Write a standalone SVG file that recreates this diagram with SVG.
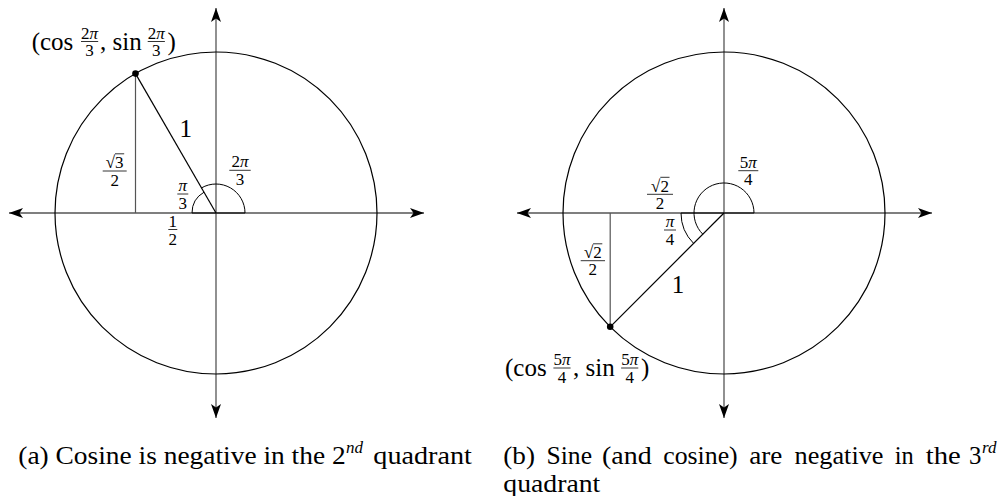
<svg xmlns="http://www.w3.org/2000/svg" width="1004" height="496" viewBox="0 0 1004 496">
<style>
text{font-family:"Liberation Serif","Times New Roman",serif;fill:#000}
.m{font-size:25px}
.s{font-size:17px;text-anchor:middle}
.c{font-size:24.8px}
.sup{font-size:17px;font-style:italic}
.it{font-style:italic}
.axis{stroke:#555;stroke-width:1.3;fill:none}
.thin{stroke:#555;stroke-width:1.2;fill:none}
.circ{stroke:#000;stroke-width:1.2;fill:none}
.rad{stroke:#000;stroke-width:1.2;fill:none}
.arc{stroke:#000;stroke-width:1;fill:none}
.bar{stroke:#000;stroke-width:0.8}
</style>
<defs>
<marker id="arr" viewBox="-15 -6 16 12" refX="0" refY="0" markerWidth="16" markerHeight="12" markerUnits="userSpaceOnUse" orient="auto-start-reverse">
<path d="M0,0 L-14,-5 L-10.5,0 L-14,5 Z" fill="#000"/>
</marker>
</defs>

<g id="connectors">
<line class="axis" x1="9" y1="213" x2="424" y2="213" marker-start="url(#arr)" marker-end="url(#arr)"/>
<line class="axis" x1="216" y1="8" x2="216" y2="418" marker-start="url(#arr)" marker-end="url(#arr)"/>
<line class="axis" x1="517" y1="213" x2="932" y2="213" marker-start="url(#arr)" marker-end="url(#arr)"/>
<line class="axis" x1="724" y1="8" x2="724" y2="418" marker-start="url(#arr)" marker-end="url(#arr)"/>
</g>

<g id="circle-a">
<circle class="circ" cx="216" cy="213" r="161"/>
<line class="thin" x1="135.5" y1="73.6" x2="135.5" y2="213"/>
<line class="rad" x1="216" y1="213" x2="135.5" y2="73.6"/>
<path class="arc" d="M216,213 L245,213 A29,29 0 0 0 201.5,187.9"/>
<path class="arc" d="M216,213 L192,213 A24,24 0 0 1 204,192.2"/>
<circle cx="135.5" cy="73.6" r="3.3" fill="#000"/>
</g>

<g id="labels-a">
<text class="m" x="31.7" y="49.5">(cos</text>
<text class="s" x="89.6" y="38.5">2<tspan class="it">π</tspan></text>
<line class="bar" x1="81" y1="41.5" x2="98.2" y2="41.5"/>
<text class="s" x="89.6" y="56">3</text>
<text class="m" x="100" y="49.5">, sin</text>
<text class="s" x="156.3" y="38.5">2<tspan class="it">π</tspan></text>
<line class="bar" x1="147.7" y1="41.5" x2="164.9" y2="41.5"/>
<text class="s" x="156.3" y="56">3</text>
<text class="m" x="167.5" y="49.5">)</text>

<text class="m" x="185.7" y="137.3" text-anchor="middle">1</text>

<text class="s" x="114.7" y="168">√3</text>
<line class="bar" x1="115" y1="153.8" x2="124.2" y2="153.8"/>
<line class="bar" x1="102.7" y1="171" x2="126.7" y2="171"/>
<text class="s" x="114.7" y="185.5">2</text>

<text class="s" x="240" y="167">2<tspan class="it">π</tspan></text>
<line class="bar" x1="229.3" y1="170.3" x2="250.7" y2="170.3"/>
<text class="s" x="240" y="184.8">3</text>

<text class="s" x="182.8" y="191" font-style="italic">π</text>
<line class="bar" x1="177.3" y1="194" x2="188.3" y2="194"/>
<text class="s" x="182.8" y="208.5">3</text>

<text class="s" x="172.8" y="226.5">1</text>
<line class="bar" x1="168.3" y1="229.5" x2="177.3" y2="229.5"/>
<text class="s" x="172.8" y="244.5">2</text>
</g>

<g id="circle-b">
<circle class="circ" cx="724" cy="213" r="161"/>
<line class="thin" x1="610.2" y1="213" x2="610.2" y2="326.8"/>
<line class="rad" x1="724" y1="213" x2="610.2" y2="326.8"/>
<path class="arc" d="M724,213 L754,213 A30,30 0 1 0 702.8,234.2"/>
<path class="arc" d="M724,213 L681,213 A43,43 0 0 0 693.6,243.4"/>
<circle cx="610.2" cy="326.8" r="3.3" fill="#000"/>
</g>

<g id="labels-b">
<text class="s" x="748.3" y="167.7">5<tspan class="it">π</tspan></text>
<line class="bar" x1="738.3" y1="170.7" x2="758.3" y2="170.7"/>
<text class="s" x="748.3" y="185">4</text>

<text class="s" x="660" y="191.5">√2</text>
<line class="bar" x1="660.3" y1="177.3" x2="669.5" y2="177.3"/>
<line class="bar" x1="647" y1="194.3" x2="673" y2="194.3"/>
<text class="s" x="660" y="208.8">2</text>

<text class="s" x="670" y="227" font-style="italic">π</text>
<line class="bar" x1="664" y1="230" x2="676" y2="230"/>
<text class="s" x="670" y="244.5">4</text>

<text class="s" x="592.8" y="258">√2</text>
<line class="bar" x1="593.1" y1="243.8" x2="602.3" y2="243.8"/>
<line class="bar" x1="580.7" y1="260.7" x2="605" y2="260.7"/>
<text class="s" x="592.8" y="275.2">2</text>

<text class="m" x="678" y="293" text-anchor="middle">1</text>

<text class="m" x="505" y="376">(cos</text>
<text class="s" x="562" y="365">5<tspan class="it">π</tspan></text>
<line class="bar" x1="553.4" y1="368" x2="570.6" y2="368"/>
<text class="s" x="562" y="382.5">4</text>
<text class="m" x="573" y="376">, sin</text>
<text class="s" x="629.7" y="365">5<tspan class="it">π</tspan></text>
<line class="bar" x1="621.1" y1="368" x2="638.3" y2="368"/>
<text class="s" x="629.7" y="382.5">4</text>
<text class="m" x="641" y="376">)</text>
</g>

<g id="captions">
<text class="c" x="18.3" y="464" textLength="327.4" lengthAdjust="spacingAndGlyphs">(a) Cosine is negative in the 2</text>
<text class="sup" x="346" y="453">nd</text>
<text class="c" x="373.3" y="464" textLength="98.6" lengthAdjust="spacingAndGlyphs">quadrant</text>

<text class="c" x="503.3" y="464" textLength="31.7" lengthAdjust="spacingAndGlyphs">(b)</text>
<text class="c" x="546.5" y="464" textLength="45.5" lengthAdjust="spacingAndGlyphs">Sine</text>
<text class="c" x="602" y="464" textLength="49.6" lengthAdjust="spacingAndGlyphs">(and</text>
<text class="c" x="663.2" y="464" textLength="74.5" lengthAdjust="spacingAndGlyphs">cosine)</text>
<text class="c" x="749.3" y="464" textLength="33.1" lengthAdjust="spacingAndGlyphs">are</text>
<text class="c" x="794.5" y="464" textLength="89" lengthAdjust="spacingAndGlyphs">negative</text>
<text class="c" x="894.8" y="464" textLength="19" lengthAdjust="spacingAndGlyphs">in</text>
<text class="c" x="925.7" y="464" textLength="35" lengthAdjust="spacingAndGlyphs">the</text>
<text class="c" x="969" y="464">3</text>
<text class="sup" x="982" y="453">rd</text>
<text class="c" x="503.3" y="492" textLength="97" lengthAdjust="spacingAndGlyphs">quadrant</text>
</g>
</svg>
